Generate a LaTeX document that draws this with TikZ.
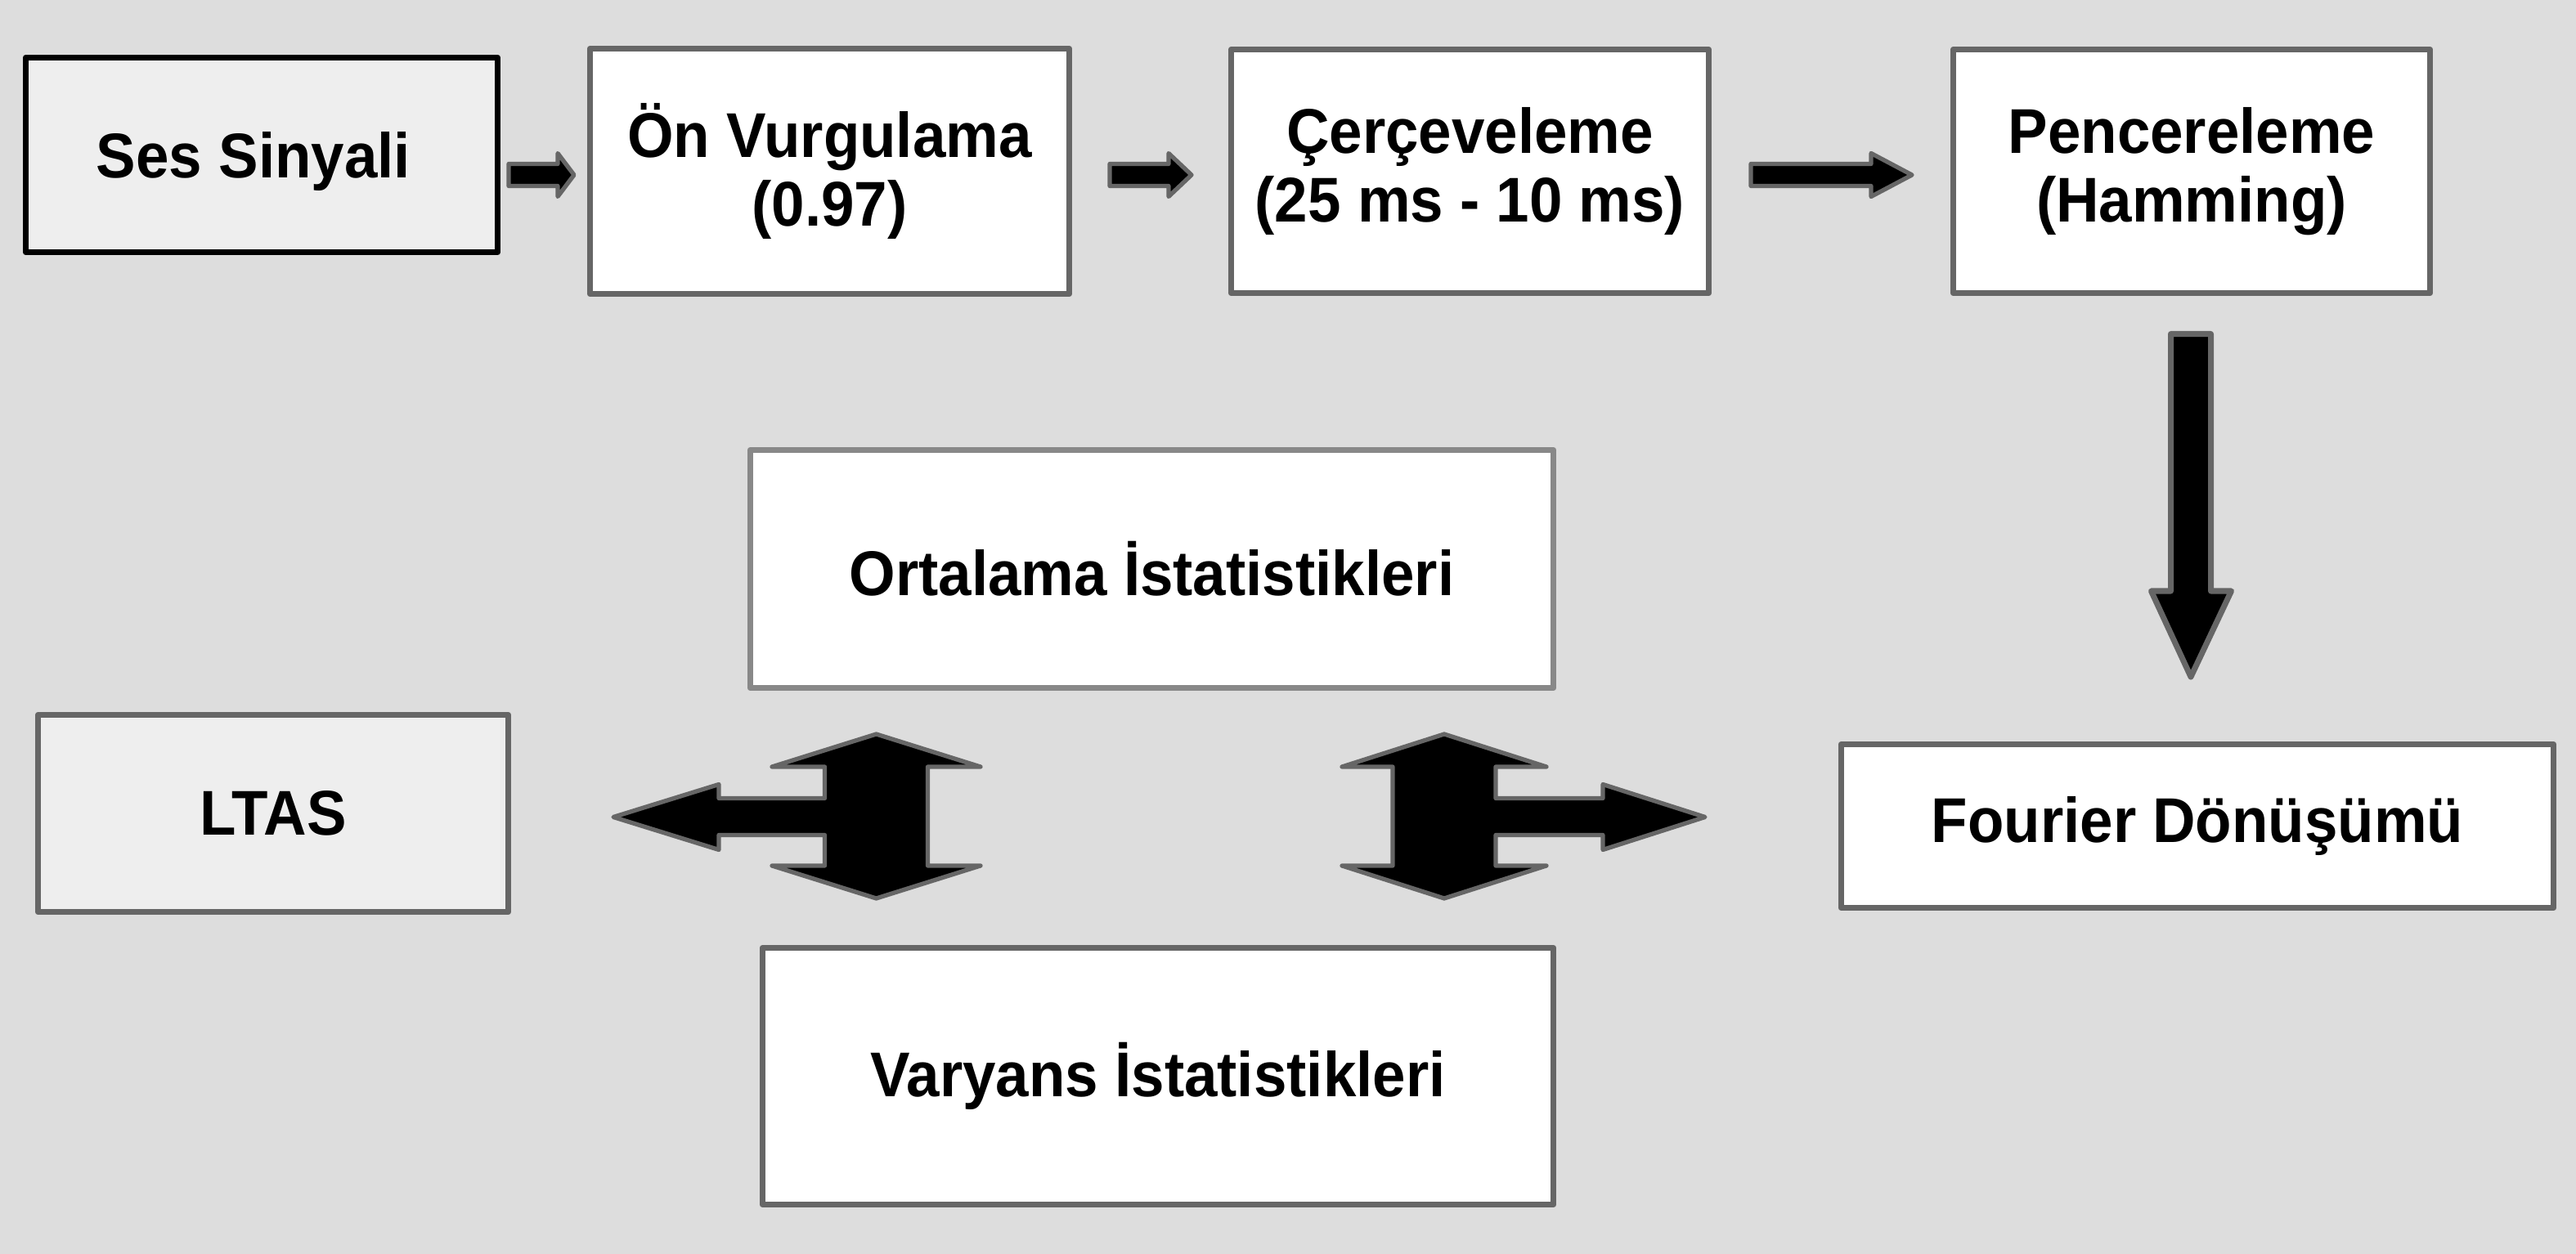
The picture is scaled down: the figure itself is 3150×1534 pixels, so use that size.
\documentclass[tikz,border=0pt]{standalone}
\usepackage{fontspec}
\setmainfont{Liberation Sans}[FakeStretch=0.94]
\usepackage{tikz}
\definecolor{bg}{HTML}{DDDDDD}
\definecolor{lite}{HTML}{EEEEEE}
\definecolor{edge}{HTML}{666666}
\definecolor{edgelite}{HTML}{888888}

\begin{document}
\begin{tikzpicture}[x=0.01cm,y=-0.01cm,line join=round]
            \tikzstyle{box}=[rectangle,draw=edge,fill=white,line width=2pt,inner sep=0pt,outer sep=0pt,align=center,font=\fontsize{22}{24}\selectfont\bfseries]
            \tikzstyle{blk}=[draw=edge,fill=black,line width=1.5pt]
            \fill[bg] (0,0) rectangle (3150,1534);

                \node[box,draw=black,fill=lite,text depth=0pt,minimum width=5.77cm,minimum height=2.38cm] (ses) at (320,189.5) {\hspace*{-0.2cm}Ses Sinyali};
                \node[box,minimum width=5.86cm,minimum height=3.00cm] (onv) at (1014.5,209.5) {Ön Vurgulama\\(0.97)};
                \node[box,minimum width=5.84cm,minimum height=2.98cm] (cer) at (1797.5,209.5) {Çerçeveleme\\(25 ms - 10 ms)};
                \node[box,minimum width=5.83cm,minimum height=2.98cm] (pen) at (2680,209.5) {Pencereleme\\(Hamming)};
                \node[box,draw=edgelite,minimum width=9.82cm,minimum height=2.91cm] (ort) at (1408.5,696) {Ortalama İstatistikleri};
                \node[box,minimum width=9.67cm,minimum height=3.14cm] (var) at (1416,1316.5) {Varyans İstatistikleri};
                \node[box,fill=lite,minimum width=5.75cm,minimum height=2.41cm] (ltas) at (334,995) {LTAS};
                \node[box,minimum width=8.71cm,minimum height=2.00cm] (fou) at (2687,1010.5) {Fourier Dönüşümü};

                % top row arrows
                \foreach \xa/\xb/\xc in {622/682/702, 1357/1429/1457, 2141/2288/2338}
                    \filldraw[blk] (\xa,200.5) -- (\xb,200.5) -- (\xb,187.5) -- (\xc,214) -- (\xb,240.5) -- (\xb,227.5) -- (\xa,227.5) -- cycle;

                % down to fourier
                \filldraw[blk,line width=2pt] (2654.5,408.5) -- (2703.5,408.5) -- (2703.5,723) -- (2728.5,723) -- (2679,828) -- (2630.5,723) -- (2654.5,723) -- cycle;

                % three way arrows
                \filldraw[blk] (1071.5,898) -- (1199,938) -- (1134.5,938) -- (1134.5,1059) -- (1199,1059) -- (1071.5,1099) -- (944,1059) -- (1008.5,1059) -- (1008.5,1021.5) -- (879,1021.5) -- (879,1039.5) -- (750,999.5) -- (879,959.5) -- (879,976.5) -- (1008.5,976.5) -- (1008.5,938) -- (944,938) -- cycle;
                \filldraw[blk] (1766,898) -- (1891,938) -- (1829,938) -- (1829,976.5) -- (1960,976.5) -- (1960,959.5) -- (2085,999.5) -- (1960,1039.5) -- (1960,1021.5) -- (1829,1021.5) -- (1829,1059) -- (1891,1059) -- (1766,1099) -- (1641,1059) -- (1703,1059) -- (1703,938) -- (1641,938) -- cycle;
        \end{tikzpicture}
\end{document}
